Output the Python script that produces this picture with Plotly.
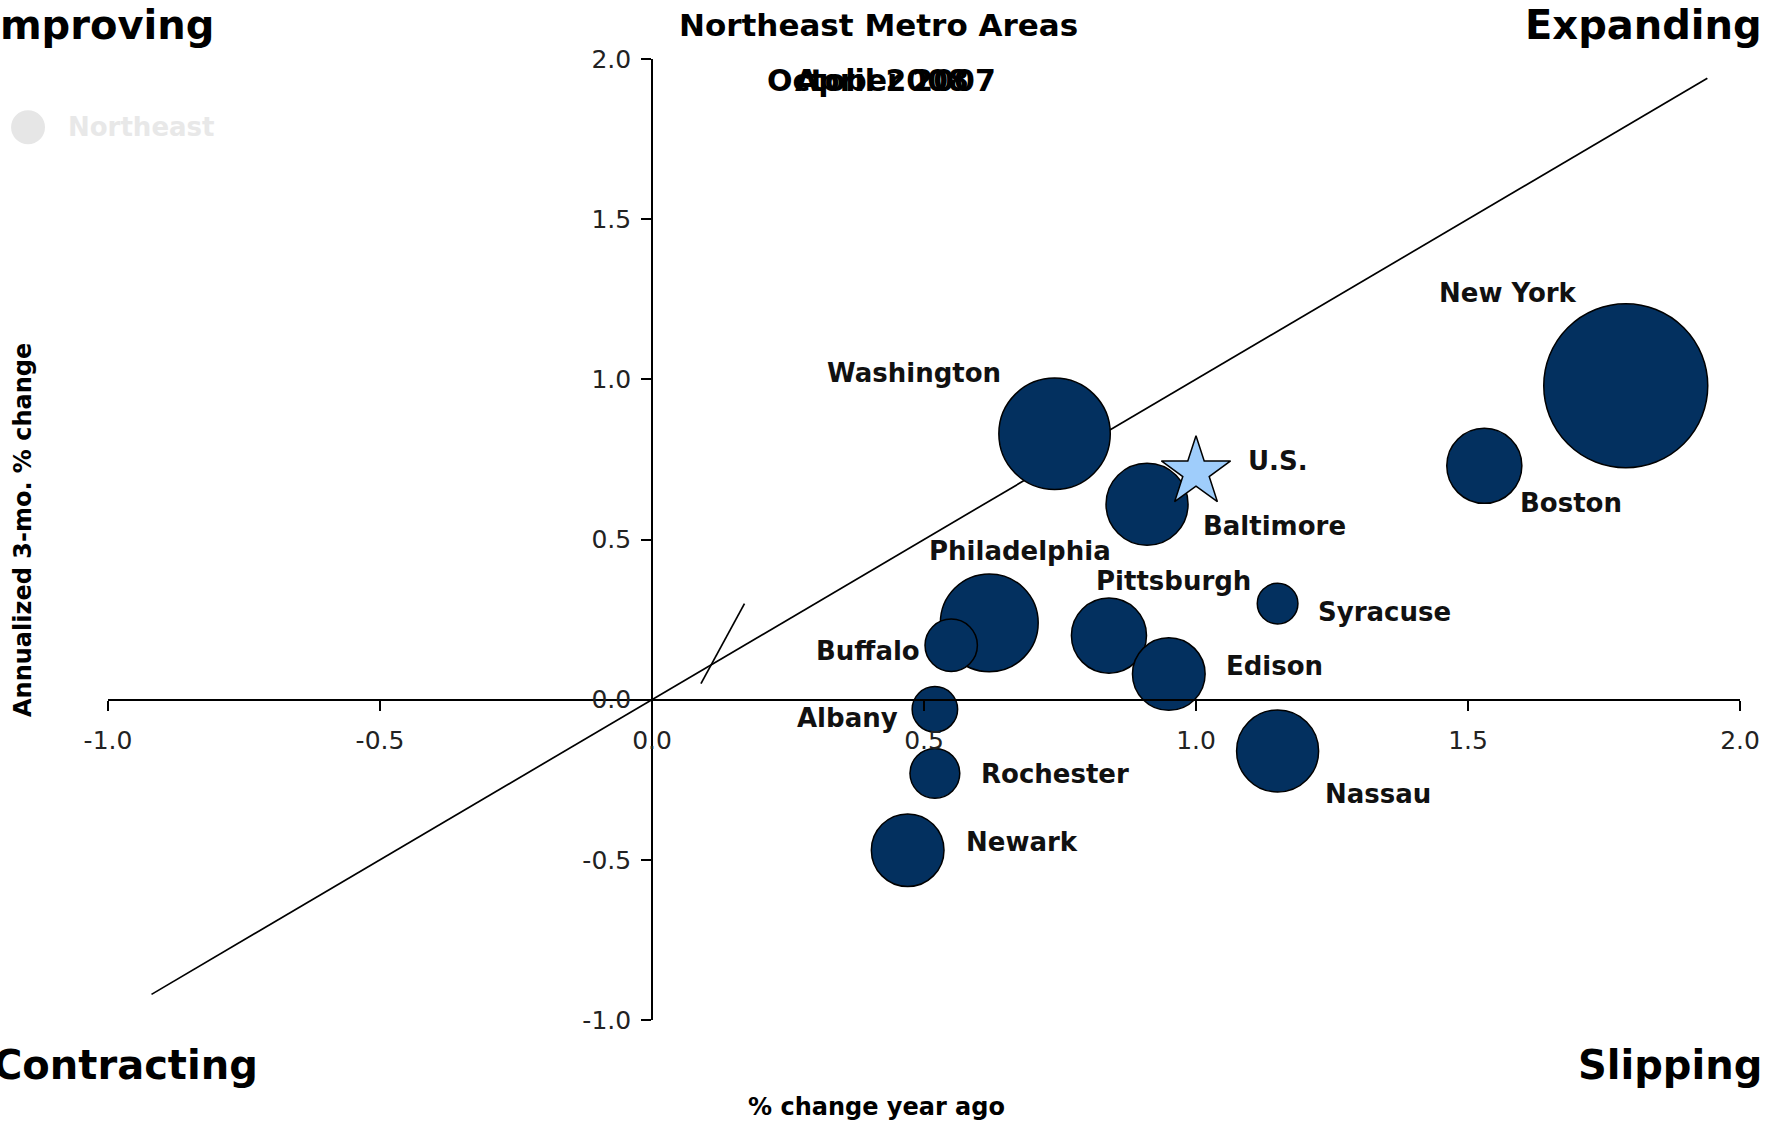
import plotly.graph_objects as go

# ---- data ----
metros = ["New York", "Boston", "Washington", "Baltimore", "Philadelphia", "Pittsburgh",
          "Buffalo", "Syracuse", "Edison", "Albany", "Nassau", "Rochester", "Newark"]
yoy_change = [1.79, 1.53, 0.74, 0.91, 0.62, 0.84, 0.55, 1.15, 0.95, 0.52, 1.15, 0.52, 0.47]
ann_3mo_change = [0.98, 0.73, 0.83, 0.61, 0.24, 0.20, 0.17, 0.30, 0.08, -0.03, -0.16, -0.23, -0.47]
employment = [5200, 1090, 2400, 1300, 1850, 1090, 530, 320, 1020, 400, 1300, 480, 1020]

us_label = ["U.S."]
us_x = [1.0]
us_y = [0.71]

diag_x = [-0.92, 1.94]
diag_y = [-0.92, 1.94]
slope_x = [0.09, 0.17]
slope_y = [0.05, 0.30]

tick_vals = [-1.0, -0.5, 0.0, 0.5, 1.0, 1.5, 2.0]
tick_text = ["-1.0", "-0.5", "0.0", "0.5", "1.0", "1.5", "2.0"]

# label offsets (px) for each metro label: (xshift, yshift)
label_offsets = {
    "New York": (-118, 93), "Boston": (87, -37), "Washington": (-141, 61),
    "Baltimore": (127, -22), "Philadelphia": (31, 72), "Pittsburgh": (65, 55),
    "Buffalo": (-83, -6), "Syracuse": (107, -8), "Edison": (106, 8),
    "Albany": (-87, -9), "Nassau": (100, -43), "Rochester": (120, -1), "Newark": (114, 8),
}

NAVY = "#03305f"
FONT = "DejaVu Sans"

fig = go.Figure()

fig.add_trace(go.Scatter(x=diag_x, y=diag_y, mode="lines",
                         line=dict(color="black", width=1.7), showlegend=False, hoverinfo="skip"))
fig.add_trace(go.Scatter(x=slope_x, y=slope_y, mode="lines",
                         line=dict(color="black", width=1.7), showlegend=False, hoverinfo="skip"))

max_d = 164
fig.add_trace(go.Scatter(
    x=yoy_change, y=ann_3mo_change, mode="markers", text=metros, name="Northeast",
    marker=dict(size=employment, sizemode="area", sizeref=2.0 * max(employment) / max_d ** 2,
                color=NAVY, line=dict(color="black", width=1.5), opacity=1),
    showlegend=False, cliponaxis=False))

fig.add_trace(go.Scatter(
    x=us_x, y=us_y, mode="markers", text=us_label, showlegend=False,
    marker=dict(symbol="star", size=52, color="#9fcdfb", line=dict(color="black", width=1.5)),
    cliponaxis=False))

LABEL_SIZE = 26
annotations = []
for name, xv, yv in zip(metros, yoy_change, ann_3mo_change):
    dx, dy = label_offsets[name]
    annotations.append(dict(x=xv, y=yv, xref="x", yref="y", text=name, showarrow=False,
                            xshift=dx, yshift=dy,
                            font=dict(family=FONT, size=LABEL_SIZE, color="#111", weight="bold")))
annotations.append(dict(x=us_x[0], y=us_y[0], xref="x", yref="y", text=us_label[0], showarrow=False,
                        xshift=82, yshift=11,
                        font=dict(family=FONT, size=LABEL_SIZE, color="#111", weight="bold")))

def paper_ann(text, x, y, size, xanchor="center", color="black", angle=0, bold=True):
    annotations.append(dict(x=x, y=y, xref="paper", yref="paper", text=text, showarrow=False,
                            xanchor=xanchor, yanchor="middle", textangle=angle,
                            font=dict(family=FONT, size=size, color=color,
                                      weight="bold" if bold else "normal")))

paper_ann("Northeast Metro Areas", 0.472, 1.035, 31)
paper_ann("October 2007", 0.474, 0.978, 30)
paper_ann("April 2008", 0.474, 0.978, 30)
paper_ann("Improving", -0.0766, 1.035, 40, xanchor="left")
paper_ann("Expanding", 1.0147, 1.035, 40, xanchor="right")
paper_ann("Contracting", -0.0717, -0.0468, 40, xanchor="left")
paper_ann("Slipping", 1.0147, -0.0468, 40, xanchor="right")
paper_ann("Northeast", -0.0257, 0.929, 26, xanchor="left", color="#e8e8e8")
paper_ann("% change year ago", 0.471, -0.0905, 24)
paper_ann("Annualized 3-mo. % change", -0.052, 0.51, 24, angle=-90)

shapes = [dict(type="circle", xref="paper", yref="paper",
               x0=-0.049 - 0.0104, x1=-0.049 + 0.0104, y0=0.929 - 0.0177, y1=0.929 + 0.0177,
               fillcolor="#e6e6e6", line=dict(width=0))]

axis_common = dict(range=[-1, 2], tickvals=tick_vals, ticktext=tick_text, showgrid=False,
                   zeroline=False, showline=True, linecolor="black", linewidth=1.7,
                   ticks="outside", ticklen=10, tickwidth=1.5, tickcolor="black",
                   tickfont=dict(family=FONT, size=25, color="#222"), anchor="free",
                   position=1.0 / 3.0)

fig.update_layout(
    width=1781, height=1123,
    margin=dict(l=108, r=41, t=59, b=103),
    plot_bgcolor="white", paper_bgcolor="white",
    xaxis=dict(**axis_common, ticklabelstandoff=8),
    yaxis=dict(**axis_common, ticklabelstandoff=5),
    annotations=annotations, shapes=shapes, showlegend=False,
)

fig.write_html("out.html", config={"displayModeBar": False},
               post_script="document.body.style.margin='0';document.body.style.overflow='hidden';")
